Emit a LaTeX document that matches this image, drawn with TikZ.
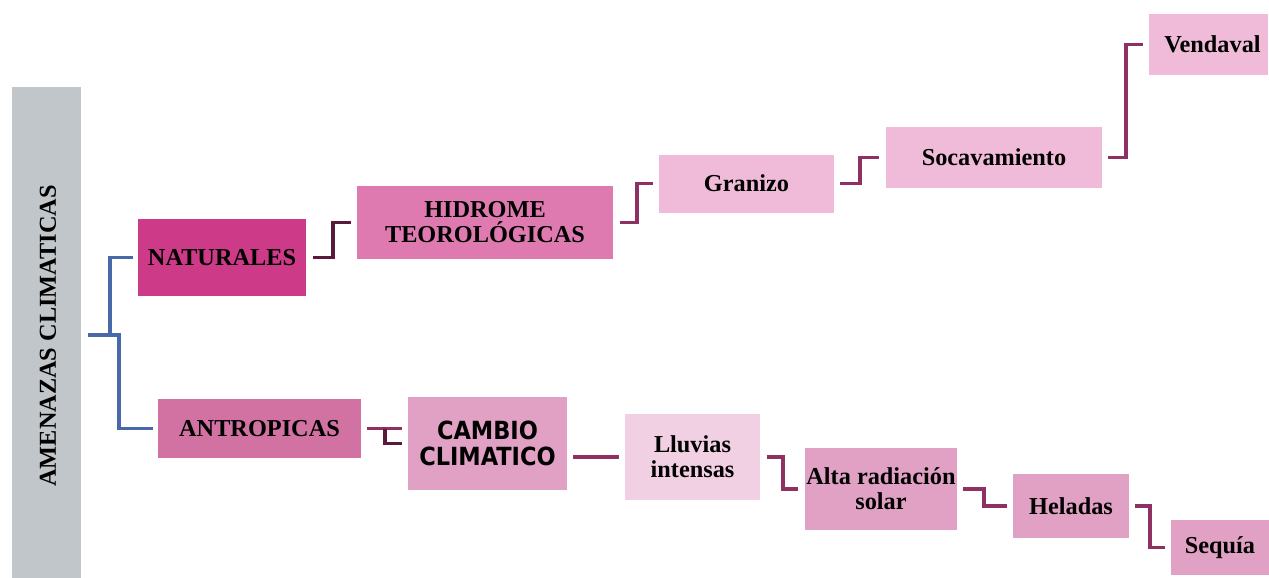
\documentclass[tikz,border=0pt]{standalone}
\usepackage{fontspec}
\setmainfont{Liberation Serif}
\newfontfamily\cbfont{DejaVu Sans Condensed}
\definecolor{graybar}{HTML}{C1C6CA}
\definecolor{natc}{HTML}{CC3A88}
\definecolor{antc}{HTML}{D172A2}
\definecolor{hidc}{HTML}{DE7AB0}
\definecolor{lightc}{HTML}{F0BBD8}
\definecolor{midc}{HTML}{E1A1C4}
\definecolor{palec}{HTML}{F0D0E2}
\definecolor{bluel}{HTML}{4868A8}
\definecolor{darkl}{HTML}{5A1A3C}
\definecolor{magl}{HTML}{8E3062}
\begin{document}
\begin{tikzpicture}[x=1pt,y=-1pt,
  box/.style={inner sep=0pt, align=center, font=\fontsize{24.3}{25}\selectfont\bfseries},
  bl/.style={draw=bluel, line width=3.6pt},
  dk/.style={draw=darkl, line width=3.8pt},
  mg/.style={draw=magl, line width=3.8pt}]
\useasboundingbox (0,0) rectangle (1269,578);
% boxes
\node[box, fill=graybar, minimum width=69pt, minimum height=496pt] (gray) at (46.5,335) {};
\node[box, rotate=90] (title) at (48,336) {AMENAZAS CLIMATICAS};
\node[box, fill=natc, minimum width=168pt, minimum height=77pt] (nat) at (222,257.5) {NATURALES};
\node[box, fill=antc, minimum width=203pt, minimum height=59pt] (ant) at (259.5,428.5) {ANTROPICAS};
\node[box, fill=hidc, minimum width=256pt, minimum height=73pt] (hid) at (485,222.5) {HIDROME\\TEOROLÓGICAS};
\node[box, fill=lightc, minimum width=175pt, minimum height=58pt] (gra) at (746.5,183.5) {Granizo};
\node[box, fill=lightc, minimum width=216pt, minimum height=61pt] (soc) at (994,157.5) {Socavamiento};
\node[box, fill=lightc, minimum width=119pt, minimum height=61pt] (ven) at (1208.5,44.5) {\hspace*{8pt}Vendaval};
\node[box, fill=midc, minimum width=159pt, minimum height=93pt, font=\cbfont\fontsize{25}{25.5}\selectfont\bfseries] (cam) at (487.5,443.5) {CAMBIO\\CLIMATICO};
\node[box, fill=palec, minimum width=135pt, minimum height=86pt] (llu) at (692.5,457) {Lluvias\\intensas};
\node[box, fill=midc, minimum width=152pt, minimum height=82pt] (alt) at (881,489) {Alta radiación\\solar};
\node[box, fill=midc, minimum width=116pt, minimum height=64pt] (hel) at (1071,506) {Heladas};
\node[box, fill=midc, minimum width=98pt, minimum height=55pt] (seq) at (1220,547.5) {Sequía};
% connectors
\draw[bl] ([xshift=7pt]gray.east) -- ++(31,0) |- ([xshift=-5pt]ant.west);
\draw[bl] ([xshift=29pt]gray.east) |- ([xshift=-5pt]nat.west);
\draw[dk] ([xshift=7pt]nat.east) -- ++(20,0) |- ([xshift=-6pt]hid.west);
\draw[mg] ([xshift=7pt]hid.east) -- ++(17,0) |- ([xshift=-6pt]gra.west);
\draw[mg] ([xshift=6pt]gra.east) -- ++(20,0) |- ([xshift=-7pt]soc.west);
\draw[mg] ([xshift=6pt]soc.east) -- ++(18,0) |- ([xshift=-6pt]ven.west);
\draw[mg] ([xshift=6pt]ant.east) -- ([xshift=-6pt]cam.west |- ant.east);
\draw[dk] ([xshift=24pt]ant.east) |- ([xshift=-6pt]cam.west);
\draw[mg] ([xshift=6pt]cam.east |- llu.west) -- ([xshift=-6pt]llu.west);
\draw[mg] ([xshift=7pt]llu.east) -- ++(16,0) |- ([xshift=-7pt]alt.west);
\draw[mg] ([xshift=6pt]alt.east) -- ++(21,0) |- ([xshift=-6pt]hel.west);
\draw[mg] ([xshift=6pt]hel.east) -- ++(15,0) |- ([xshift=-6pt]seq.west);
\end{tikzpicture}
\end{document}
